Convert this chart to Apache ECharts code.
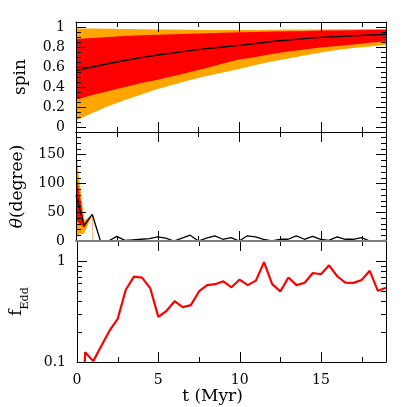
<!DOCTYPE html>
<html>
<head>
<meta charset="utf-8">
<script src="https://cdn.jsdelivr.net/npm/echarts@6/dist/echarts.min.js"></script>
<style>
  html, body { margin: 0; padding: 0; background: #fff; }
  #chart { width: 407px; height: 407px; }
</style>
</head>
<body>
<div id="chart"></div>
<script>
// top panel: spin, sampled every 1 Myr
const tSpin = [0, 1, 2, 3, 4, 5, 6, 7, 8, 9, 10, 11, 12, 13, 14, 15, 16, 17, 18, 19]
const spinMedian = [0.563, 0.60, 0.635, 0.665, 0.693, 0.72, 0.742, 0.763, 0.783, 0.80, 0.816, 0.835, 0.855, 0.87, 0.884, 0.896, 0.904, 0.912, 0.92, 0.926]
const spinRedLow = [0.273, 0.32, 0.36, 0.40, 0.44, 0.473, 0.51, 0.55, 0.59, 0.635, 0.675, 0.70, 0.73, 0.755, 0.775, 0.796, 0.81, 0.825, 0.843, 0.856]
const spinRedHigh = [0.88, 0.89, 0.90, 0.91, 0.917, 0.923, 0.928, 0.933, 0.938, 0.943, 0.947, 0.951, 0.955, 0.958, 0.961, 0.964, 0.966, 0.968, 0.97, 0.972]
const spinOrangeLow = [0.066, 0.14, 0.21, 0.27, 0.325, 0.38, 0.425, 0.47, 0.51, 0.545, 0.58, 0.62, 0.655, 0.685, 0.715, 0.746, 0.77, 0.79, 0.805, 0.82]
const spinOrangeHigh = [0.985, 0.984, 0.982, 0.98, 0.978, 0.976, 0.974, 0.972, 0.97, 0.97, 0.97, 0.971, 0.972, 0.974, 0.975, 0.976, 0.977, 0.978, 0.979, 0.98]

// middle + bottom panels, sampled every 0.5 Myr
const tStep = [0, 0.5, 1, 1.5, 2, 2.5, 3, 3.5, 4, 4.5, 5, 5.5, 6, 6.5, 7, 7.5, 8, 8.5, 9, 9.5,
  10, 10.5, 11, 11.5, 12, 12.5, 13, 13.5, 14, 14.5, 15, 15.5, 16, 16.5, 17, 17.5, 18, 18.5, 19]
const thetaMedian = [79, 27, 46, 0, 0, 8, 1, 2, 3, 4, 7, 5, 0, 5, 10, 0, 5, 9, 3, 6,
  0, 9, 7, 3, 0, 3, 3, 9, 3, 8, 3, 1, 7, 3, 3, 6, 0, 0, 1]
const tThetaBand = [0, 0.5, 1]
const thetaRedLow = [36, 23, 46]
const thetaRedHigh = [120, 30, 46]
const thetaOrangeLow = [10, 13, 46]
const thetaOrangeHigh = [158, 36, 46]
// first value lies far below the plotted range
const fEdd = [0.001, 0.125, 0.102, 0.145, 0.204, 0.267, 0.52, 0.70, 0.685, 0.54, 0.28, 0.32, 0.40, 0.35, 0.366, 0.50, 0.577, 0.59, 0.63, 0.55,
  0.656, 0.577, 0.64, 0.977, 0.59, 0.50, 0.687, 0.577, 0.61, 0.762, 0.74, 0.907, 0.707, 0.61, 0.608, 0.65, 0.80, 0.507, 0.543]

// ticks and labels
const xMajor = [0, 5, 10, 15]
const xMinor = [2.5, 7.5, 12.5, 17.5]
const spinMajor = [0, 0.2, 0.4, 0.6, 0.8, 1]
const spinMinor = [0.05, 0.1, 0.15, 0.25, 0.3, 0.35, 0.45, 0.5, 0.55, 0.65, 0.7, 0.75, 0.85, 0.9, 0.95]
const thetaMajor = [0, 50, 100, 150]
const thetaMinor = [10, 20, 30, 40, 60, 70, 80, 90, 110, 120, 130, 140, 160, 170, 180]
const fMajor = [0.1, 1]
const fMinor = [0.2, 0.3, 0.4, 0.5, 0.6, 0.7, 0.8, 0.9]

const FONT = 'DejaVu Serif'
const ORANGE = '#ffa500'
const RED = '#ff0000'
const MAJ = 10
const MIN = 5

const pts = (xs, ys) => xs.map((x, i) => [x, ys[i]])

const grids = [
  { left: 76, right: 21, top: 22, height: 110 },
  { left: 76, right: 21, top: 132, height: 109 },
  { left: 76, right: 21, top: 241, height: 121 },
]

// axes only give the frame lines, labels and names; ticks come from the custom series below
const mkAxis = (gridIndex, position, range, extra) => Object.assign({
  type: 'value',
  gridIndex: gridIndex,
  position: position,
  min: range[0],
  max: range[1],
  z: 10,
  axisLine: { show: true, onZero: false, lineStyle: { color: '#000', width: 1 } },
  axisTick: { show: false },
  axisLabel: { show: false },
  splitLine: { show: false },
}, extra || {})

const label = (vals) => ({
  show: true, customValues: vals, fontFamily: FONT, fontSize: 14, color: '#000', margin: 11,
})

const xRange = [0, 19]
const xAxes = []
for (let g = 0; g < 3; g++) {
  const bottomExtra = {}
  if (g === 1) bottomExtra.axisLine = { show: true, onZero: false, lineStyle: { color: '#808080', width: 2 } }
  if (g === 2) {
    bottomExtra.axisLabel = label(xMajor)
    bottomExtra.name = 't (Myr)'
    bottomExtra.nameLocation = 'middle'
    bottomExtra.nameGap = 25
    bottomExtra.nameTextStyle = { fontFamily: FONT, fontSize: 17, color: '#000', padding: [0, 38, 0, 0] }
  }
  xAxes.push(mkAxis(g, 'bottom', xRange, bottomExtra))
  xAxes.push(mkAxis(g, 'top', xRange, g === 2 ? { axisLine: { show: false } } : {}))
}

const nameStyle = { fontFamily: FONT, fontSize: 17, color: '#000' }
const logType = { type: 'log', logBase: 10 }
const yAxes = [
  mkAxis(0, 'left', [-0.05, 1.05], {
    axisLabel: label(spinMajor),
    name: 'spin', nameLocation: 'middle', nameGap: 47, nameTextStyle: nameStyle,
  }),
  mkAxis(0, 'right', [-0.05, 1.05]),
  mkAxis(1, 'left', [0, 189], {
    axisLabel: label(thetaMajor),
    name: '{it|θ}(degree)', nameLocation: 'middle', nameGap: 50,
    nameTextStyle: Object.assign({ rich: { it: { fontFamily: FONT, fontSize: 17, fontStyle: 'italic', color: '#000' } } }, nameStyle),
  }),
  mkAxis(1, 'right', [0, 189]),
  mkAxis(2, 'left', [0.1, 1.58], Object.assign({
    axisLabel: label(fMajor),
    name: '{f|f}{sub|Edd}', nameLocation: 'middle', nameGap: 46,
    nameTextStyle: Object.assign({ rich: {
      f: { fontFamily: FONT, fontSize: 17, color: '#000', verticalAlign: 'top', padding: [0, 0, 6, 0] },
      sub: { fontFamily: FONT, fontSize: 11, color: '#000', verticalAlign: 'bottom' },
    } }, nameStyle),
  }, logType)),
  mkAxis(2, 'right', [0.1, 1.58], logType),
]

// inward ticks on both opposite sides, placed through the grid's own scales
const tickMarks = (g, dir, vals, ref, len) => ({
  type: 'custom', coordinateSystem: 'cartesian2d', xAxisIndex: g * 2, yAxisIndex: g * 2,
  encode: { x: 0, y: 1 },
  data: vals.map(v => (dir === 'x' ? [v, ref] : [ref, v])),
  clip: false, silent: true, z: 5,
  renderItem: (params, api) => {
    const cs = params.coordSys
    const p = api.coord([api.value(0), api.value(1)])
    const st = { stroke: '#000', lineWidth: 1 }
    if (dir === 'x') {
      const x = Math.round(p[0]) + 0.5
      const yb = cs.y + cs.height
      return { type: 'group', children: [
        { type: 'line', shape: { x1: x, y1: yb, x2: x, y2: yb - len }, style: st },
        { type: 'line', shape: { x1: x, y1: cs.y, x2: x, y2: cs.y + len }, style: st },
      ] }
    }
    const y = Math.round(p[1]) + 0.5
    const xr = cs.x + cs.width
    return { type: 'group', children: [
      { type: 'line', shape: { x1: cs.x, y1: y, x2: cs.x + len, y2: y }, style: st },
      { type: 'line', shape: { x1: xr, y1: y, x2: xr - len, y2: y }, style: st },
    ] }
  },
})

const panelTicks = (g, yRef, yMajor, yMinor) => [
  tickMarks(g, 'x', xMajor, yRef, MAJ),
  tickMarks(g, 'x', xMinor, yRef, MIN),
  tickMarks(g, 'y', yMajor, 1, MAJ),
  tickMarks(g, 'y', yMinor, 1, MIN),
]

// bands are painted as layered areas filled down to the axis start
const area = (xi, yi, xs, ys, color) => ({
  type: 'line', xAxisIndex: xi, yAxisIndex: yi,
  data: pts(xs, ys), symbol: 'none', showSymbol: false, silent: true,
  lineStyle: { width: 0, opacity: 0 },
  areaStyle: { color: color, opacity: 1, origin: 'start' },
})

const series = [
  area(0, 0, tSpin, spinOrangeHigh, ORANGE),
  area(0, 0, tSpin, spinRedHigh, RED),
  area(0, 0, tSpin, spinRedLow, ORANGE),
  area(0, 0, tSpin, spinOrangeLow, '#fff'),
  {
    type: 'line', xAxisIndex: 0, yAxisIndex: 0, data: pts(tSpin, spinMedian),
    symbol: 'none', lineStyle: { color: '#000', width: 1.3 },
  },
  area(2, 2, tThetaBand, thetaOrangeHigh, ORANGE),
  area(2, 2, tThetaBand, thetaRedHigh, RED),
  area(2, 2, tThetaBand, thetaRedLow, ORANGE),
  area(2, 2, tThetaBand, thetaOrangeLow, '#fff'),
  {
    type: 'line', xAxisIndex: 2, yAxisIndex: 2, data: pts(tStep, thetaMedian),
    symbol: 'none', lineStyle: { color: '#000', width: 1.3 },
  },
  {
    type: 'line', xAxisIndex: 4, yAxisIndex: 4, data: pts(tStep, fEdd),
    symbol: 'none', clip: true, lineStyle: { color: RED, width: 2.2 },
  },
].concat(
  panelTicks(0, 0.5, spinMajor, spinMinor),
  panelTicks(1, 50, thetaMajor, thetaMinor),
  panelTicks(2, 0.5, fMajor, fMinor)
)

const chart = echarts.init(document.getElementById('chart'))
chart.setOption({
  animation: false,
  grid: grids,
  xAxis: xAxes,
  yAxis: yAxes,
  series: series,
})
</script>
</body>
</html>
